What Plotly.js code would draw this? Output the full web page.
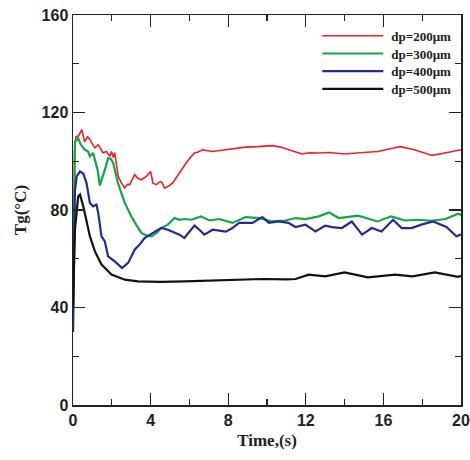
<!DOCTYPE html>
<html>
<head>
<meta charset="utf-8">
<script src="https://cdn.plot.ly/plotly-3.0.1.min.js"></script>
<style>html,body{margin:0;padding:0;background:#fff;}#chart{width:470px;height:460px;}</style>
</head>
<body>
<div id="chart"></div>
<script>
var seriesNames = ['dp=200\u03bcm', 'dp=300\u03bcm', 'dp=400\u03bcm', 'dp=500\u03bcm'];

var redT = [0, 0.08, 0.15, 0.3, 0.45, 0.6, 0.75, 0.87, 1.0, 1.13, 1.3, 1.42, 1.54, 1.73, 1.9, 1.98, 2.08, 2.15, 2.33, 2.5, 2.67, 2.8, 2.92, 3.05, 3.18, 3.35, 3.52, 3.78, 3.9, 4.0, 4.12, 4.29, 4.51, 4.6, 4.72, 4.97, 5.15, 5.32, 5.49, 5.74, 5.83, 6.05, 6.26, 6.45, 6.68, 7.18, 7.6, 8.05, 8.5, 8.9, 9.5, 10.27, 10.7, 11.1, 11.8, 12.2, 12.67, 13.2, 13.6, 14.0, 14.8, 15.7, 16.3, 16.86, 17.6, 18.1, 18.5, 19.3, 20];
var redY = [30, 104, 110, 110.5, 113, 108, 110, 109, 107, 105.5, 106.8, 105, 103.5, 104, 102, 104, 101.5, 103.5, 93.8, 91, 89, 90.5, 90.4, 92.5, 94.5, 93, 92.4, 93.8, 95, 95.8, 91, 90.4, 91.7, 91.2, 89, 90, 91.2, 93.2, 95.3, 98.6, 99.3, 101.5, 103.4, 103.8, 104.7, 104, 104.5, 105, 105.3, 105.8, 106, 106.4, 105.8, 104.7, 103, 103.5, 103.4, 103.6, 103.2, 103, 103.5, 104, 105, 106, 104.7, 103.5, 102.4, 103.6, 104.7];

var greenT = [0, 0.1, 0.27, 0.36, 0.48, 0.62, 0.78, 0.87, 1.04, 1.16, 1.28, 1.38, 1.55, 1.7, 1.81, 1.95, 2.07, 2.32, 2.67, 3.0, 3.25, 3.52, 3.8, 4.04, 4.3, 4.55, 4.89, 5.23, 5.49, 5.74, 6.1, 6.6, 7.03, 7.54, 8.22, 8.9, 9.6, 10.27, 10.96, 11.47, 11.98, 12.67, 13.2, 13.7, 14.7, 15.7, 16.4, 17.1, 17.8, 18.5, 19.2, 19.85, 20];
var greenY = [30, 108, 109.5, 107.5, 106, 104.7, 104, 102, 103.4, 100, 96, 90, 93.8, 98, 101.3, 101, 99.3, 91, 82.9, 77.4, 74, 70.6, 69.5, 69.2, 70.5, 72.6, 74, 76.7, 76, 76.3, 76, 77.4, 75.7, 76.3, 74.7, 77.1, 76.7, 75.3, 75.7, 76.7, 76.3, 77.4, 79, 76.7, 77.7, 75.3, 77.4, 75.7, 76, 75.6, 76.3, 78.5, 78];

var blueT = [0, 0.1, 0.19, 0.36, 0.53, 0.7, 0.87, 1.04, 1.21, 1.3, 1.47, 1.64, 1.81, 2.0, 2.15, 2.35, 2.53, 2.84, 3.18, 3.45, 3.69, 4.12, 4.55, 4.89, 5.23, 5.49, 5.74, 6.0, 6.26, 6.5, 6.77, 7.2, 7.88, 8.2, 8.56, 9.25, 9.76, 10.1, 10.6, 11.1, 11.47, 11.98, 12.5, 13.0, 13.35, 13.86, 14.37, 14.9, 15.4, 15.9, 16.5, 16.94, 17.45, 17.96, 18.56, 19.25, 19.76, 20];
var blueY = [30, 88, 93.8, 95.8, 95, 91, 82.9, 81.5, 82.2, 78.8, 69.2, 67.1, 61, 60, 58.9, 57.5, 56.2, 58.3, 63.7, 66, 68.5, 70.6, 72.6, 71.9, 70.6, 69.9, 68.5, 71, 73.6, 72, 69.9, 71.9, 71.1, 72.5, 74.7, 74.7, 77.1, 74.7, 75.3, 74.7, 73, 74, 71.2, 73.6, 73, 72.6, 75.3, 69.9, 72.6, 71.2, 76, 72.6, 72.6, 74, 75.3, 73, 69.2, 69.9];

var blackT = [0, 0.1, 0.27, 0.36, 0.53, 0.7, 0.87, 1.13, 1.47, 1.98, 2.67, 3.35, 4.5, 5.74, 7.0, 8.0, 9.76, 11.0, 11.47, 12.15, 13.0, 14.0, 15.2, 16.6, 17.5, 18.65, 19.3, 19.85, 20];
var blackY = [40, 72, 85.6, 86.3, 81.5, 74.7, 69.2, 63, 57.6, 53.5, 51.4, 50.7, 50.5, 50.7, 51, 51.4, 51.7, 51.5, 51.7, 53.5, 52.8, 54.4, 52.4, 53.5, 52.8, 54.4, 53.5, 52.6, 53];

var xTicks = [0, 4, 8, 12, 16, 20];
var yTicks = [0, 40, 80, 120, 160];

var colors = ['#e8232b', '#16a34a', '#252b8c', '#111111'];
var widths = [1.6, 2.2, 2.2, 2.2];
var tData = [redT, greenT, blueT, blackT];
var yData = [redY, greenY, blueY, blackY];

var traces = seriesNames.map(function (n, i) {
  return {
    x: tData[i], y: yData[i], name: n, type: 'scatter', mode: 'lines',
    line: {color: colors[i], width: widths[i]}
  };
});

var tickFont = {family: 'Liberation Sans Narrow, Liberation Sans, Arial', size: 16, color: '#222', weight: 'bold'};
var axisCommon = {
  showgrid: false, zeroline: false, showline: true, linecolor: '#222', linewidth: 1.5,
  mirror: 'ticks', ticks: 'inside', ticklen: 12, tickwidth: 1.3, tickcolor: '#222',
  tickfont: tickFont, ticklabeloverflow: 'allow'
};

var layout = {
  width: 470, height: 460,
  margin: {l: 73, r: 9, t: 15, b: 55},
  paper_bgcolor: '#fff', plot_bgcolor: '#fff',
  showlegend: true,
  legend: {
    x: 0.64, y: 0.985, xanchor: 'left', yanchor: 'top',
    bgcolor: 'rgba(0,0,0,0)', borderwidth: 0, itemwidth: 60, tracegroupgap: 0,
    font: {family: 'Liberation Serif, Times New Roman, serif', size: 13, color: '#222', weight: 'bold'}
  },
  xaxis: Object.assign({}, axisCommon, {
    range: [0, 20], tickvals: xTicks, ticktext: xTicks.map(String),
    minor: {dtick: 2, ticklen: 6, tickwidth: 1.3, tickcolor: '#222', ticks: 'inside'},
    title: {text: 'Time,(s)', standoff: 6, font: {family: 'Liberation Serif, Times New Roman, serif', size: 17, color: '#222', weight: 'bold'}}
  }),
  yaxis: Object.assign({}, axisCommon, {
    range: [0, 160], tickvals: yTicks, ticktext: yTicks.map(String),
    minor: {dtick: 20, ticklen: 6, tickwidth: 1.3, tickcolor: '#222', ticks: 'inside'},
    title: {text: 'Tg(\u00b0C)', standoff: 10, font: {family: 'Liberation Serif, Times New Roman, serif', size: 17, color: '#222', weight: 'bold'}}
  })
};

Plotly.newPlot('chart', traces, layout, {displayModeBar: false, staticPlot: true}).then(function (gd) {
  // legend styling: longer sample lines and tighter rows like the reference
  var items = gd.querySelectorAll('.legend .traces');
  var base = null;
  items.forEach(function (g, i) {
    var tr = g.getAttribute('transform') || '';
    var m = /translate\(([-\d.]+)[ ,]+([-\d.]+)\)/.exec(tr);
    if (m) {
      if (base === null) base = parseFloat(m[2]);
      g.setAttribute('transform', 'translate(' + m[1] + ',' + (base + i * 17.7) + ')');
    }
    var p = g.querySelector('.legendlines path');
    if (p) p.setAttribute('d', 'M1,0h61');
  });
});
</script>
</body>
</html>
